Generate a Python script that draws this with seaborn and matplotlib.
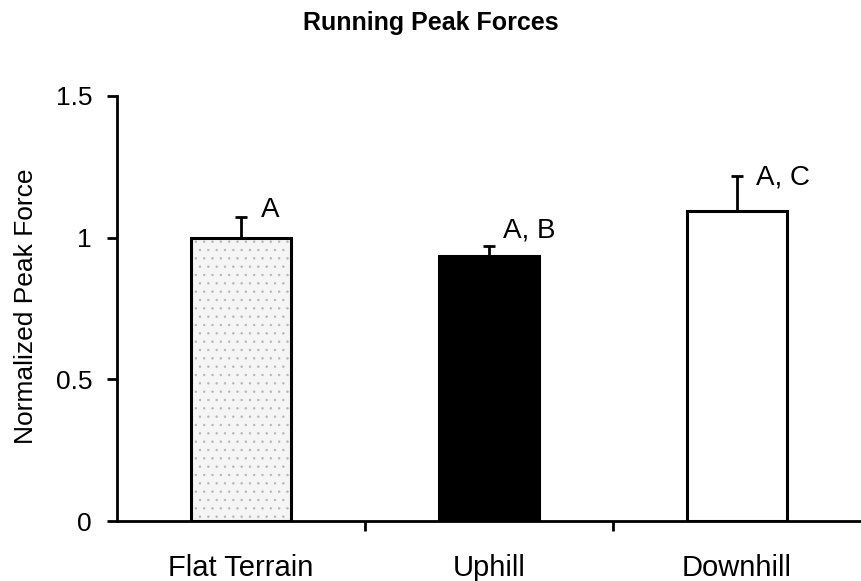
import matplotlib
matplotlib.use("Agg")
import matplotlib.pyplot as plt
import seaborn as sns
import pandas as pd

# values
conditions = ["Flat Terrain", "Uphill", "Downhill"]
peak_force = [1.00, 0.935, 1.095]
peak_err = [0.072, 0.035, 0.123]
sig_labels = ["A", "A, B", "A, C"]
bar_colors = ["#f5f5f5", "#000000", "#ffffff"]

df = pd.DataFrame({"condition": conditions, "force": peak_force})

sns.set_style("white")
plt.rcParams["font.family"] = ["Liberation Sans", "DejaVu Sans"]
plt.rcParams["hatch.linewidth"] = 0.5
for key in ["text.color", "axes.labelcolor", "xtick.color", "ytick.color"]:
    plt.rcParams[key] = "black"

fig = plt.figure(figsize=(8.61, 5.81), dpi=100)
ax = fig.add_axes([0.136, 0.103, 0.864, 0.732])

sns.barplot(data=df, x="condition", y="force", hue="condition", palette=bar_colors,
            legend=False, width=0.4, edgecolor="black", linewidth=2.2, ax=ax)

# stippled look on the flat terrain bar: grey dots, then redraw the black outline
stip = ax.patches[0]
stip.set_hatch("..")
stip.set_edgecolor("#b5b5b5")
stip.set_linewidth(0)
ax.bar(0, peak_force[0], width=0.4, fill=False, edgecolor="black", linewidth=2.2, zorder=3)

xs = range(len(conditions))
ax.errorbar(xs, peak_force, yerr=[[0] * 3, peak_err], fmt="none", ecolor="black",
            elinewidth=2, capsize=4, capthick=2, zorder=4)

# significance letters
offsets = [(14, 0), (10, 6), (14, -6.5)]
for i, (lab, off) in enumerate(zip(sig_labels, offsets)):
    ax.annotate(lab, (i, peak_force[i] + peak_err[i]), xytext=off, textcoords="offset points",
                fontsize=20, ha="left", va="baseline", color="black")

ax.set_xlim(-0.5, 2.5)
ax.set_ylim(0, 1.5)
ax.set_yticks([0, 0.5, 1, 1.5])
ax.set_yticklabels(["0", "0.5", "1", "1.5"])
ax.set_xticks([0, 1, 2])
ax.set_xticklabels(conditions)
ax.set_xticks([0.5, 1.5], minor=True)
ax.tick_params(axis="x", which="major", length=0, pad=24, labelsize=21, labelcolor="black")
ax.tick_params(axis="x", which="minor", length=7, width=2, direction="out", bottom=True,
               color="black")
ax.tick_params(axis="y", length=7, width=2, direction="out", labelsize=19, left=True, pad=11,
               color="black", labelcolor="black")
ax.set_xlabel("")
ax.set_ylabel("Normalized Peak Force", fontsize=19, color="black")
ax.yaxis.set_label_coords(-0.106, 0.506)

for s in ["top", "right"]:
    ax.spines[s].set_visible(False)
for s in ["left", "bottom"]:
    ax.spines[s].set_linewidth(2)
    ax.spines[s].set_color("black")

fig.text(0.5, 0.961, "Running Peak Forces", fontsize=18, fontweight="bold",
         ha="center", va="center", color="black")

fig.savefig("out.png", dpi=100)
